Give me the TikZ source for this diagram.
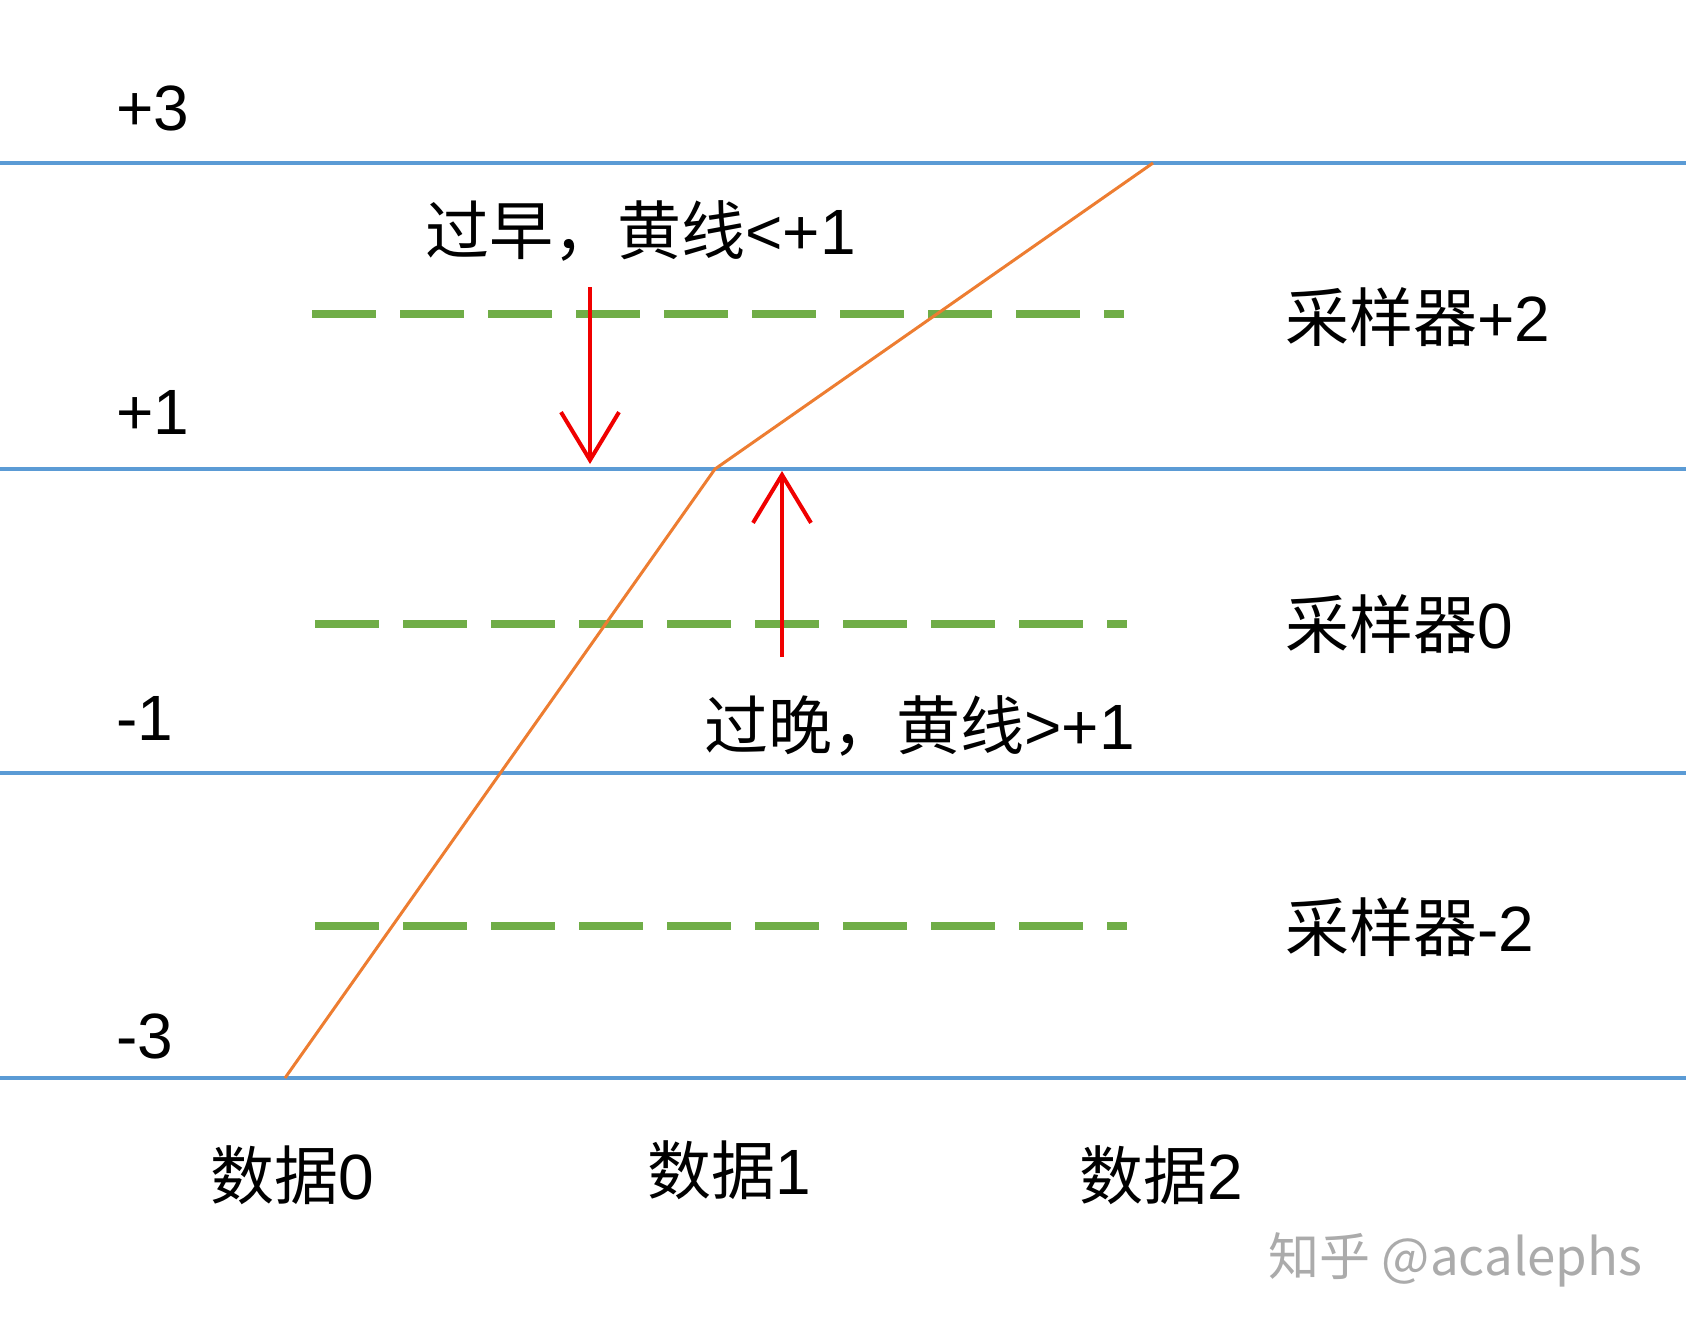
\documentclass[tikz,border=0pt]{standalone}
\usepackage{fontspec}
\setmainfont{Liberation Sans}
\newfontfamily\cjk{Noto Sans CJK SC}
\usetikzlibrary{arrows.meta}
\definecolor{levelblue}{RGB}{91,155,213}
\definecolor{traceorange}{RGB}{237,125,49}
\definecolor{samplegreen}{RGB}{112,173,71}
\definecolor{markred}{RGB}{240,0,0}
\begin{document}
\begin{tikzpicture}[x=0.5pt, y=-0.5pt,
  level/.style={draw=levelblue, line width=1.6pt},
  sampler/.style={draw=samplegreen, line width=4pt, dash pattern=on 32pt off 12pt},
  trace/.style={draw=traceorange, line width=1.5pt, line join=round},
  shift arrow/.style={draw=markred, line width=2pt, -{Straight Barb[length=24pt, width=29pt, line width=2pt]}},
  lbl/.style={inner sep=0pt, font=\fontsize{32}{38}\selectfont},
  lblw/.style={lbl, anchor=west}]
\useasboundingbox (0,0) rectangle (1686,1333);
% levels
\coordinate (l3a) at (0,163);
\coordinate (l3b) at (1686,163);
\coordinate (l1a) at (0,469);
\coordinate (l1b) at (1686,469);
\coordinate (m1a) at (0,773);
\coordinate (m1b) at (1686,773);
\coordinate (m3a) at (0,1078);
\coordinate (m3b) at (1686,1078);
\draw[level] (l3a) -- (l3b);
\draw[level] (l1a) -- (l1b);
\draw[level] (m1a) -- (m1b);
\draw[level] (m3a) -- (m3b);
\node[lblw] (tp3) at (116,108) {+3};
\node[lblw] (tp1) at (116,412) {+1};
\node[lblw] (tm1) at (116,718) {-1};
\node[lblw] (tm3) at (116,1036) {-3};
% samplers
\coordinate (s2a) at (312,314);
\coordinate (s2b) at (1124,314);
\coordinate (s0a) at (315,624);
\coordinate (s0b) at (1127,624);
\coordinate (sm2a) at (315,926);
\coordinate (sm2b) at (1127,926);
\draw[sampler] (s2a) -- (s2b);
\draw[sampler] (s0a) -- (s0b);
\draw[sampler] (sm2a) -- (sm2b);
\node[lblw] (ts2) at (1285,317) {{\cjk 采样器}+2};
\node[lblw] (ts0) at (1285,624) {{\cjk 采样器}0};
\node[lblw] (tsm2) at (1285,927) {{\cjk 采样器}-2};
% transition
\coordinate (d0) at (285,1078);
\coordinate (d1) at (715,469);
\coordinate (d2) at (1153,163);
\draw[trace] (d0) -- (d1) -- (d2);
% early / late
\coordinate (ea) at (590,287);
\coordinate (eb) at (590,464);
\coordinate (la) at (782,657);
\coordinate (lb) at (782,471);
\draw[shift arrow] (ea) -- (eb);
\draw[shift arrow] (la) -- (lb);
\node[lblw] (early) at (425,231) {{\cjk 过早，黄线}<+1};
\node[lblw] (late) at (704,726) {{\cjk 过晚，黄线}>+1};
% data
\node[lbl] (data0) at (292,1175) {{\cjk 数据}0};
\node[lbl] (data1) at (729,1170) {{\cjk 数据}1};
\node[lbl] (data2) at (1161,1175) {{\cjk 数据}2};
\node[anchor=west, inner sep=0pt, text=black!33, font=\cjk\fontsize{25.5}{30}\selectfont] (wm) at (1268,1260) {知乎 @acalephs};
\end{tikzpicture}
\end{document}
